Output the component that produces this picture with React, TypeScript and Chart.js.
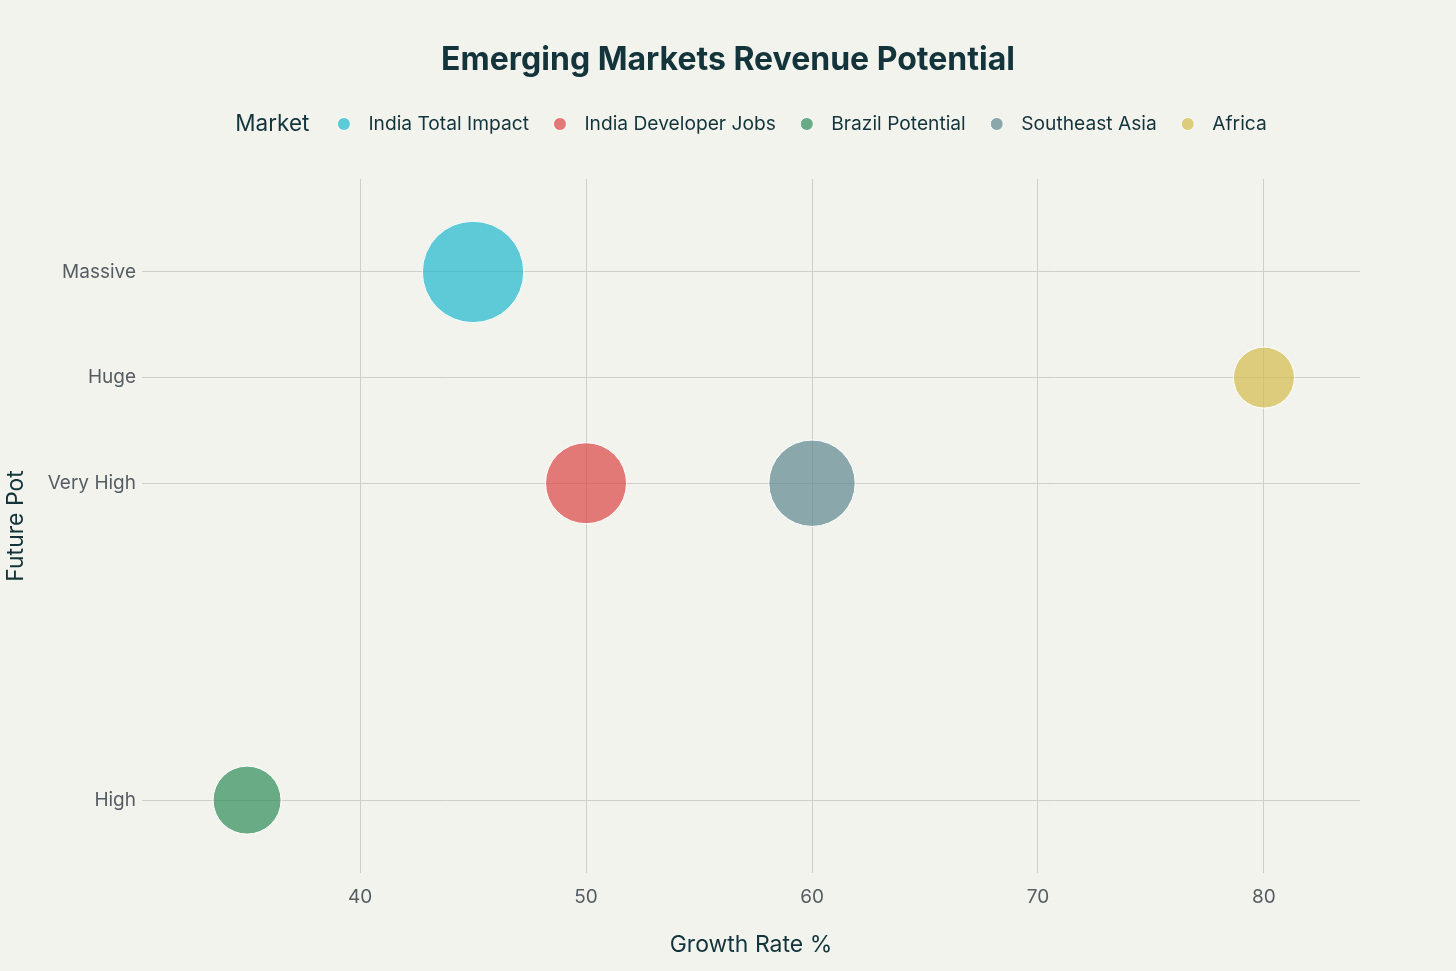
import { useEffect, useRef } from 'react';
import { Chart, registerables } from 'chart.js';

Chart.register(...registerables);

// ---- data ----
const markets = ['India Total Impact', 'India Developer Jobs', 'Brazil Potential', 'Southeast Asia', 'Africa'];
const growthRates = [45, 50, 35, 60, 80];
const potentialLevels = ['Massive', 'Very High', 'High', 'Very High', 'Huge'];
const bubbleRadii = [50.7, 40.5, 34, 43.2, 30.5];
const marketColors = ['#1FB8CD', '#DB4545', '#2E8B57', '#5D878F', '#D2BA4C'];
const potentialTickLabels = ['High', 'Very High', 'Huge', 'Massive'];
const potentialTickValues = [5, 8, 9, 10];
const growthTickValues = [40, 50, 60, 70, 80];

const FONT = 'Inter, "Noto Sans", sans-serif';
const BG = '#F3F3EE';
const DARK = '#13343B';
const TICK = '#555D63';
const GRID = '#CFCFCA';

const levelValue = (lvl: string) => potentialTickValues[potentialTickLabels.indexOf(lvl)];

const withAlpha = (hex: string, a: number) => {
  const n = parseInt(hex.slice(1), 16);
  return `rgba(${(n >> 16) & 255}, ${(n >> 8) & 255}, ${n & 255}, ${a})`;
};

const bgPlugin = {
  id: 'bgFill',
  beforeDraw(chart: any) {
    const { ctx, width, height } = chart;
    ctx.save();
    ctx.fillStyle = BG;
    ctx.fillRect(0, 0, width, height);
    ctx.restore();
  },
};

const inlineLegend = {
  id: 'inlineLegend',
  afterDraw(chart: any) {
    const { ctx, chartArea } = chart;
    const y = 124;
    ctx.save();
    ctx.textBaseline = 'middle';
    ctx.textAlign = 'left';
    const titleFont = `22.5px ${FONT}`;
    const itemFont = `19.2px ${FONT}`;
    ctx.font = titleFont;
    const tw = ctx.measureText('Market').width;
    ctx.font = itemFont;
    const items = chart.data.datasets.map((ds: any, i: number) => ({
      label: ds.label as string,
      color: withAlpha(marketColors[i], 0.7),
      w: ctx.measureText(ds.label).width,
    }));
    const titleGap = 34.5;
    const markerGap = 24.5;
    const itemGap = 31;
    let total = tw + titleGap;
    items.forEach((it: any, i: number) => {
      total += markerGap + it.w + (i < items.length - 1 ? itemGap : 0);
    });
    let x = (chartArea.left + chartArea.right) / 2 - total / 2;
    ctx.fillStyle = DARK;
    ctx.font = titleFont;
    ctx.fillText('Market', x, y);
    x += tw + titleGap;
    ctx.font = itemFont;
    items.forEach((it: any) => {
      ctx.beginPath();
      ctx.arc(x, y, 6.5, 0, Math.PI * 2);
      ctx.fillStyle = it.color;
      ctx.fill();
      ctx.lineWidth = 1;
      ctx.strokeStyle = '#FFFFFF';
      ctx.stroke();
      x += markerGap;
      ctx.fillStyle = DARK;
      ctx.fillText(it.label, x, y);
      x += it.w + itemGap;
    });
    ctx.restore();
  },
};

export default function App() {
  const canvasRef = useRef<HTMLCanvasElement | null>(null);

  useEffect(() => {
    document.body.style.margin = '0';
    document.body.style.background = BG;
    const canvas = canvasRef.current;
    if (!canvas) return;

    const datasets = markets.map((m, i) => ({
      label: m,
      data: [{ x: growthRates[i], y: levelValue(potentialLevels[i]), r: bubbleRadii[i] }],
      backgroundColor: withAlpha(marketColors[i], 0.7),
      borderColor: '#FFFFFF',
      borderWidth: 1,
      hoverRadius: 0,
    }));

    const chart = new Chart(canvas, {
      type: 'bubble',
      data: { datasets },
      plugins: [bgPlugin, inlineLegend],
      options: {
        responsive: false,
        animation: false,
        devicePixelRatio: 1,
        layout: { padding: 0 },
        plugins: {
          legend: { display: false },
          tooltip: { enabled: false },
          title: {
            display: true,
            text: 'Emerging Markets Revenue Potential',
            color: DARK,
            font: { family: FONT, size: 32, weight: 'bold', lineHeight: 1.2 },
            padding: { top: 41, bottom: 99.6 },
          },
        },
        scales: {
          x: {
            type: 'linear',
            min: 30.35,
            max: 84.25,
            afterBuildTicks: (s: any) => {
              s.ticks = growthTickValues.map((v) => ({ value: v }));
            },
            afterFit: (s: any) => {
              s.height = 98;
            },
            border: { display: false },
            grid: { color: GRID, lineWidth: 1, drawTicks: false },
            ticks: {
              color: TICK,
              font: { family: FONT, size: 19 },
              padding: 13,
              maxRotation: 0,
            },
            title: {
              display: true,
              text: 'Growth Rate %',
              color: DARK,
              font: { family: FONT, size: 23, lineHeight: 1.2 },
              padding: { top: 0, bottom: 12 },
            },
          },
          y: {
            type: 'linear',
            min: 4.31,
            max: 10.88,
            afterBuildTicks: (s: any) => {
              s.ticks = potentialTickValues.map((v) => ({ value: v }));
            },
            afterFit: (s: any) => {
              s.width = 142;
            },
            border: { display: false },
            grid: { color: GRID, lineWidth: 1, drawTicks: false },
            ticks: {
              color: TICK,
              font: { family: FONT, size: 19 },
              padding: 6,
              callback: (v: any) => potentialTickLabels[potentialTickValues.indexOf(Number(v))] ?? '',
            },
            title: {
              display: true,
              text: 'Future Pot',
              color: DARK,
              font: { family: FONT, size: 23, lineHeight: 1.2 },
              padding: { top: 2, bottom: 0 },
            },
          },
          // empty right-hand margin of the plot, so the title stays centred on the page
          yRightMargin: {
            type: 'linear',
            position: 'right',
            display: true,
            min: 0,
            max: 1,
            afterFit: (s: any) => {
              s.width = 96;
            },
            border: { display: false },
            grid: { display: false },
            ticks: { display: false },
          },
        },
      },
    } as any);

    return () => chart.destroy();
  }, []);

  return (
    <div style={{ width: 1456, height: 971 }}>
      <canvas ref={canvasRef} width={1456} height={971} style={{ display: 'block', width: 1456, height: 971 }} />
    </div>
  );
}
